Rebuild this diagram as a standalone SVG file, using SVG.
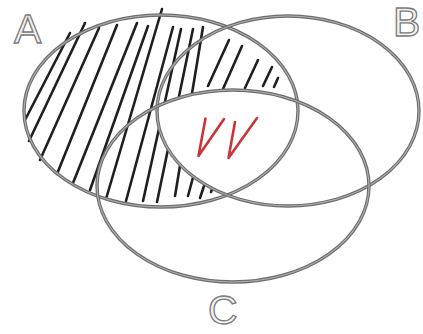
<svg xmlns="http://www.w3.org/2000/svg" width="423" height="334" viewBox="0 0 423 334">
<style>
.edge{fill:none;stroke:#6e6e6e;stroke-width:3.4}
.edge2{fill:none;stroke:#b0b0b0;stroke-width:1.1}
.hatch line{stroke:#1f1f1f;stroke-width:2.6;stroke-linecap:round}
.lbl{font-family:"Liberation Sans",Arial,sans-serif;font-size:41px;fill:#f2f2f2;stroke:#7a7a7a;stroke-width:1.3}
.vv{fill:none;stroke:#c8363b;stroke-width:2.6;stroke-linecap:round;stroke-linejoin:round}
</style>
<defs>
<clipPath id="clipC"><ellipse cx="233" cy="186" rx="136" ry="96"/></clipPath>
</defs>
<rect width="423" height="334" fill="#ffffff"/>
<g id="hatching" class="hatch">
<line x1="25" y1="120" x2="70" y2="33"/>
<line x1="29" y1="141" x2="85" y2="23"/>
<line x1="40" y1="160" x2="99" y2="28"/>
<line x1="57" y1="174" x2="117" y2="25"/>
<line x1="73" y1="183" x2="137" y2="23"/>
<line x1="90" y1="190" x2="148" y2="26"/>
<line x1="106" y1="199" x2="162" y2="9"/>
<line x1="126" y1="201" x2="173" y2="27"/>
<line x1="143" y1="201" x2="181" y2="29"/>
<line x1="157" y1="202" x2="193" y2="29"/>
<line x1="175" y1="196" x2="203" y2="27"/>
<line x1="188" y1="196" x2="195" y2="170"/>
<line x1="200" y1="198" x2="204" y2="186"/>
<line x1="211" y1="192" x2="213" y2="187"/>
<line x1="208" y1="86" x2="229" y2="40"/>
<line x1="223" y1="89" x2="242" y2="46"/>
<line x1="245" y1="88" x2="258" y2="60"/>
<line x1="263" y1="86" x2="272" y2="67"/>
<line x1="274" y1="87" x2="278" y2="78"/>
</g>
<ellipse id="centreBlank" cx="288" cy="111" rx="131" ry="95" fill="#ffffff" clip-path="url(#clipC)"/>
<g id="setA">
<ellipse class="edge" cx="161" cy="111" rx="137" ry="96"/>
<ellipse class="edge2" cx="161" cy="111" rx="137" ry="96"/>
<text class="lbl" x="14" y="43">A</text>
</g>
<g id="setB">
<ellipse class="edge" cx="288" cy="111" rx="131" ry="95"/>
<ellipse class="edge2" cx="288" cy="111" rx="131" ry="95"/>
<text class="lbl" x="393" y="36">B</text>
</g>
<g id="setC">
<ellipse class="edge" cx="233" cy="186" rx="136" ry="96"/>
<ellipse class="edge2" cx="233" cy="186" rx="136" ry="96"/>
<text class="lbl" x="208" y="324">C</text>
</g>
<g id="mark">
<path class="vv" d="M205.5 118.5 L198.5 156 L224 119"/>
<path class="vv" d="M235 122 L228.5 158 L257 118"/>
</g>
<g id="connectors"/>
</svg>
